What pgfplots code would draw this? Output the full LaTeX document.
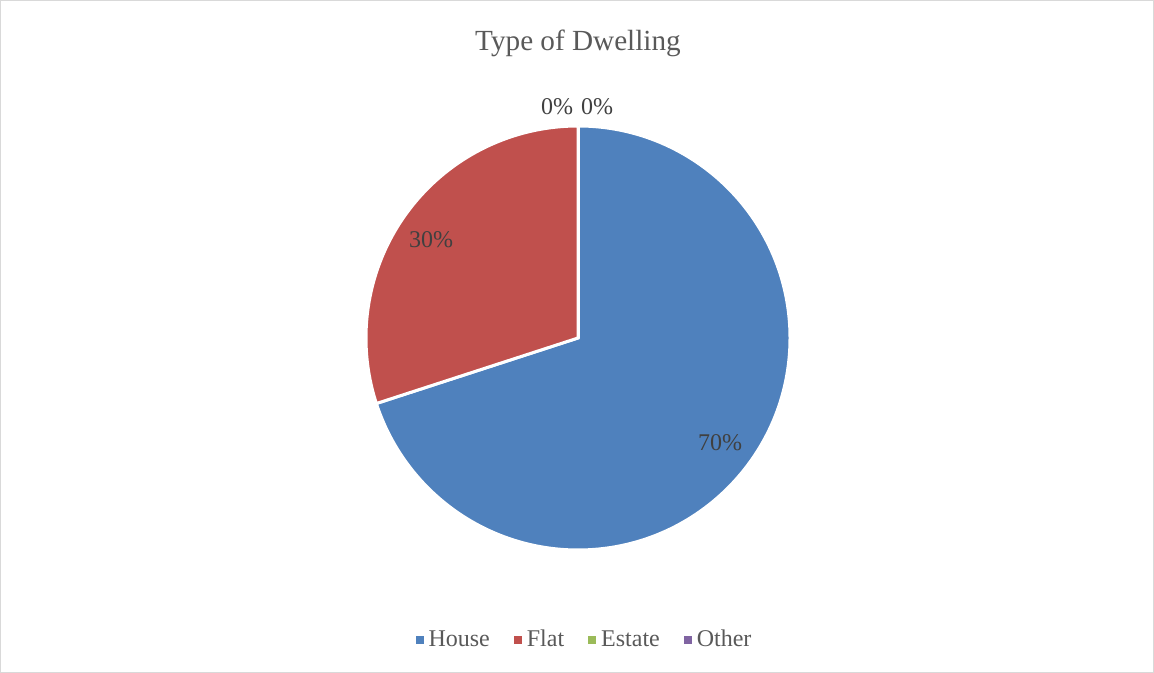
\documentclass[border=0pt]{standalone}
\usepackage{fontspec}
\setmainfont{Liberation Serif}
\usepackage{pgfplots}
\usepackage{pgfplotstable}
\pgfplotsset{compat=1.18}
\definecolor{cHouse}{HTML}{4F81BD}
\definecolor{cFlat}{HTML}{C0504D}
\definecolor{cEstate}{HTML}{9BBB59}
\definecolor{cOther}{HTML}{8064A2}
\definecolor{cTitle}{HTML}{595959}
\definecolor{cLabel}{HTML}{404040}
\definecolor{cBorder}{HTML}{D9D9D9}
\pgfplotstableread{
name value
House 70
Flat 30
Estate 0
Other 0
}\dwelling
\begin{document}
\begin{tikzpicture}
\pgfplotstablegetelem{0}{value}\of\dwelling \edef\vHouse{\pgfplotsretval}
\pgfplotstablegetelem{1}{value}\of\dwelling \edef\vFlat{\pgfplotsretval}
\pgfplotstablegetelem{2}{value}\of\dwelling \edef\vEstate{\pgfplotsretval}
\pgfplotstablegetelem{3}{value}\of\dwelling \edef\vOther{\pgfplotsretval}
\pgfmathsetmacro\aA{90}
\pgfmathsetmacro\aB{\aA-3.6*\vHouse}
\pgfmathsetmacro\aC{\aB-3.6*\vFlat}
\pgfmathsetmacro\aD{\aC-3.6*\vEstate}
\pgfmathsetmacro\aE{\aD-3.6*\vOther}
\begin{axis}[
  scale only axis, width=577pt, height=336.5pt,
  xmin=0, xmax=1154, ymin=0, ymax=673,
  axis lines=none, clip=false,
  legend image code/.code={\fill[#1] (0pt,-2pt) rectangle (4pt,2pt);},
  legend style={at={(axis cs:586,33)}, anchor=center, legend columns=-1,
    draw=none, fill=none, font=\fontsize{12}{14}\selectfont, text=cTitle,
    nodes={inner xsep=2.5pt, inner ysep=1.5pt},
    /tikz/every even column/.append style={column sep=9.5pt}},
]
\addlegendimage{fill=cHouse, draw=none}
\addlegendentry{House}
\addlegendimage{fill=cFlat, draw=none}
\addlegendentry{Flat}
\addlegendimage{fill=cEstate, draw=none}
\addlegendentry{Estate}
\addlegendimage{fill=cOther, draw=none}
\addlegendentry{Other}
\draw[cBorder, line width=0.5pt] (axis cs:0.5,0.5) rectangle (axis cs:1153.5,672.5);
\filldraw[fill=cHouse, draw=white, line width=1.5pt] (axis cs:578,335) -- ++(\aA:106pt) arc[start angle=\aA, end angle=\aB, radius=106pt] -- cycle;
\filldraw[fill=cFlat, draw=white, line width=1.5pt] (axis cs:578,335) -- ++(\aB:106pt) arc[start angle=\aB, end angle=\aC, radius=106pt] -- cycle;
\filldraw[fill=cEstate, draw=white, line width=1.5pt] (axis cs:578,335) -- ++(\aC:106pt) arc[start angle=\aC, end angle=\aD, radius=106pt] -- cycle;
\filldraw[fill=cOther, draw=white, line width=1.5pt] (axis cs:578,335) -- ++(\aD:106pt) arc[start angle=\aD, end angle=\aE, radius=106pt] -- cycle;
\node[anchor=base, font=\fontsize{14.6}{17}\selectfont, text=cTitle] at (axis cs:578,622) {Type of Dwelling};
\node[anchor=base, font=\fontsize{12}{14}\selectfont, text=cLabel] at (axis cs:720,222) {\vHouse\%};
\node[anchor=base, font=\fontsize{12}{14}\selectfont, text=cLabel] at (axis cs:431,425) {\vFlat\%};
\node[anchor=base, font=\fontsize{12}{14}\selectfont, text=cLabel] at (axis cs:557,558) {\vEstate\%};
\node[anchor=base, font=\fontsize{12}{14}\selectfont, text=cLabel] at (axis cs:597,558) {\vOther\%};
\end{axis}
\end{tikzpicture}
\end{document}
